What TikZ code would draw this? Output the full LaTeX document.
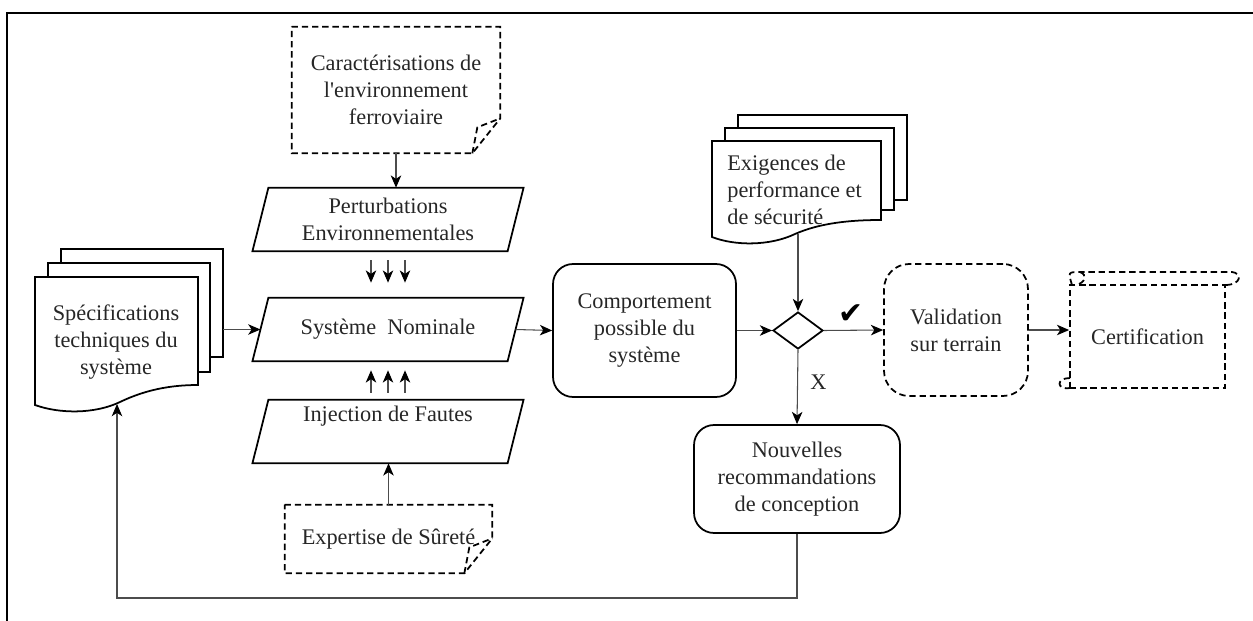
\documentclass[tikz,border=0pt]{standalone}
\usepackage{fontspec}
\setmainfont{Liberation Serif}
\newfontfamily\symfont{DejaVu Sans}
\usetikzlibrary{arrows.meta,shapes.geometric}

\tikzset{
  line/.style={line width=1pt, black},
  dashline/.style={dash pattern=on 3.6pt off 2.2pt},
  arr/.style={line width=0.6pt, black!70, -{Stealth[length=7pt,width=6pt,inset=2pt,color=black]}},
  txt/.style={font=\fontsize{12.7}{15.4}\selectfont, align=center, inner sep=0pt, text=black!85},
  roundbox/.style={txt, draw, line width=1pt, rounded corners=0.4cm},
  slantbox/.style={txt, minimum width=5.09cm, minimum height=1.26cm},
}
% parallelogram around a node
\newcommand{\slant}[1]{\draw[line] ([xshift=-0.16cm]#1.south west) -- ([xshift=0.16cm]#1.north west)
  -- ([xshift=0.16cm]#1.north east) -- ([xshift=-0.16cm]#1.south east) -- cycle;}
% dashed card with folded corner
\newcommand{\folded}[1]{\draw[line,dashline] (#1.north west) -- (#1.north east) -- ([yshift=0.7cm]#1.south east)
  -- ([xshift=-0.56cm]#1.south east) -- (#1.south west) -- cycle;
  \draw[line,dashline] ([xshift=-0.56cm]#1.south east) -- ([xshift=-0.46cm,yshift=0.52cm]#1.south east)
  -- ([yshift=0.7cm]#1.south east);}

\begin{document}
\begin{tikzpicture}[x=0.02cm, y=-0.02cm]
    \useasboundingbox (0,0) rectangle (1253,621);
    \draw[line width=1.6pt] (7,621) -- (7,13) -- (1253,13);

    % inputs
    \node[txt, minimum width=4.16cm, minimum height=2.52cm] (cara) at (396,90)
      {Caractérisations de\\l\textquotesingle environnement\\ferroviaire};
    \folded{cara}
    \node[slantbox] (pert) at (388,219.5) {Perturbations\\Environnementales};
    \slant{pert}
    \node[slantbox] (sys) at (388,329.5) {Système~ Nominale};
    \slant{sys}
    \node[slantbox] (inj) at (388,431.5) {Injection de Fautes\\\strut};
    \slant{inj}
    \node[txt, minimum width=4.14cm, minimum height=1.36cm] (expert) at (388.5,539)
      {Expertise de Sûreté};
    \folded{expert}

    % specifications (multiple documents)
    \draw[line] (61,263) -- (61,249) -- (223,249) -- (223,357) -- (210,357);
    \draw[line] (48,277) -- (48,263) -- (210,263) -- (210,372) -- (198,372);
    \draw[line] (35,277) -- (198,277) -- (198,385) .. controls (170,385) and (145,390) .. (120,402)
      .. controls (95,414) and (60,414) .. (35,405) -- cycle;
    \node[txt] (spec) at (116,342) {Spécifications\\techniques du\\système};
    \coordinate (specout) at (223,329.5);
    \coordinate (specin) at (117,404);

    % exigences (multiple documents)
    \draw[line] (738,128) -- (738,115) -- (907,115) -- (907,200) -- (894,200);
    \draw[line] (725,141) -- (725,128) -- (894,128) -- (894,210) -- (881,210);
    \draw[line] (712,141) -- (881,141) -- (881,220) .. controls (850,220) and (820,223) .. (795,234)
      .. controls (770,246) and (735,246) .. (712,237) -- cycle;
    \node[txt, anchor=west, align=left] (exig) at (727,190) {Exigences de\\performance et\\de sécurité};
    \coordinate (exigout) at (798,234);

    % right part
    \node[roundbox, minimum width=3.66cm, minimum height=2.66cm] (comp) at (644.5,330.5)
      {Comportement\\possible du\\système};
    \node[draw, line width=1pt, diamond, minimum width=1cm, minimum height=0.74cm, inner sep=0pt]
      (dec) at (798,330.5) {};
    \node[roundbox, dashline, rounded corners=0.5cm, minimum width=2.88cm, minimum height=2.64cm]
      (valid) at (956,330) {Validation\\sur terrain};
    \node[txt, draw, line width=1pt, dashline, minimum width=3.1cm, minimum height=2.06cm]
      (cert) at (1147.5,336.5) {Certification};
    \draw[line,dashline] (1072,285) .. controls (1068,272) .. (1080,272) -- (1232,272)
      .. controls (1242,273) and (1242,285) .. (1225,285);
    \draw[line,dashline] (1080,272) .. controls (1088,275) and (1085,283) .. (1076,285);
    \draw[line,dashline] (1070,378) .. controls (1056,378) and (1056,390) .. (1070,388);
    \node[roundbox, minimum width=4.12cm, minimum height=2.16cm] (nouv) at (797,479)
      {Nouvelles\\recommandations\\de conception};

    % connectors
    \draw[arr] (cara.south) -- (cara.south |- pert.north);
    \draw[arr] (expert.north) -- (expert.north |- inj.south);
    \foreach \dx in {-0.34,0,0.34} {
      \draw[arr] ([xshift=\dx cm,yshift=-0.18cm]pert.south) -- ([xshift=\dx cm,yshift=0.3cm]sys.north);
      \draw[arr] ([xshift=\dx cm,yshift=0.14cm]inj.north) -- ([xshift=\dx cm,yshift=-0.18cm]sys.south);
    }
    \draw[arr] (specout) -- (sys.west);
    \draw[arr] (sys.east) -- (comp.west);
    \draw[arr] (comp.east) -- (dec.west);
    \draw[arr] (exigout) -- (dec.north);
    \draw[arr] (dec.east) -- node[pos=0.45, above=0pt, text=black, font=\symfont\fontsize{17}{17}\selectfont] (ok) {✔}
      (valid.west);
    \draw[arr] (dec.south) -- node[pos=0.43, right=7pt, txt] (ko) {X} (nouv.north);
    \draw[arr] (valid.east) -- (valid.east -| cert.west);
    \coordinate (fbcorner) at (117,598);
    \draw[arr] (nouv.south) |- (fbcorner) -- (specin);
  \end{tikzpicture}
\end{document}
